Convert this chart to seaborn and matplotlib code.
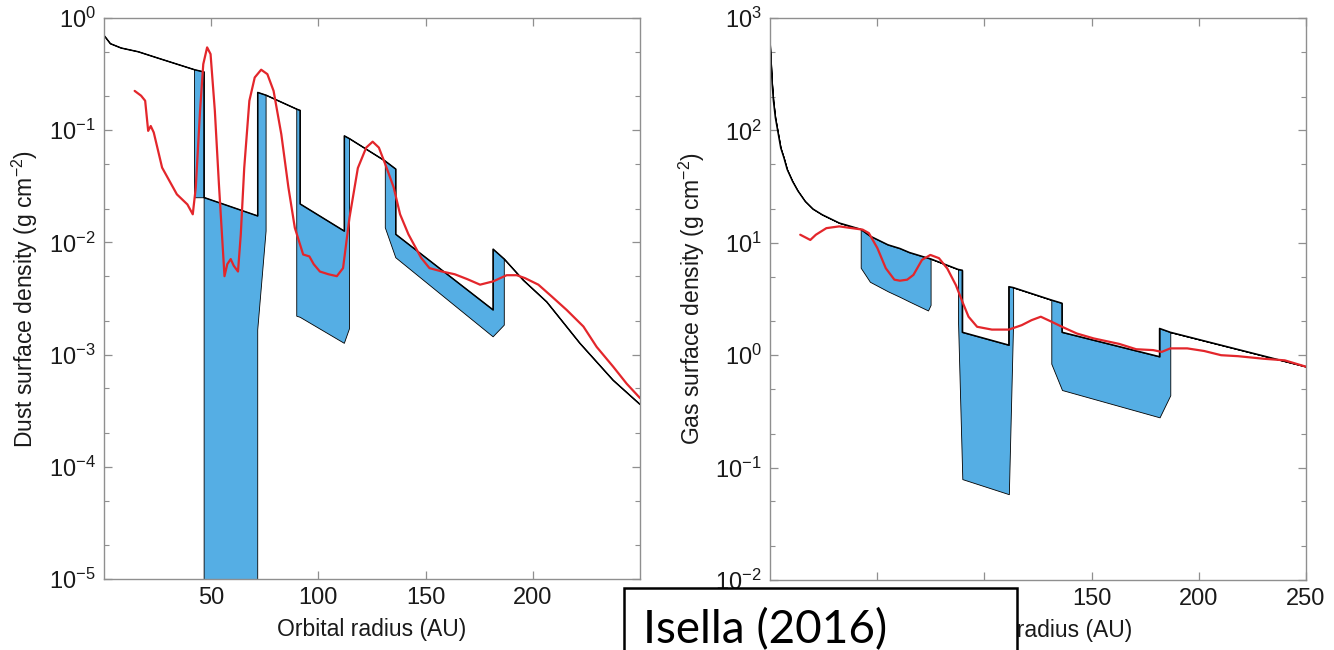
import numpy as np
import pandas as pd
import matplotlib
matplotlib.use('Agg')
import matplotlib.pyplot as plt
import seaborn as sns
from matplotlib.ticker import LogLocator, FixedLocator, FuncFormatter, NullFormatter
from matplotlib.patches import Rectangle

# ---------------- data ----------------
# Dust panel: model envelope (upper / lower), duplicated x = vertical jumps
dust_x = [0, 3, 8, 16, 25, 42.2, 42.2, 46.7, 46.7, 71.7, 71.7, 75.6, 75.6,
          89.9, 89.9, 91.5, 91.5, 112.1, 112.1, 114.5, 114.5,
          131.2, 131.2, 136.1, 136.1, 181.5, 181.5, 186.7, 186.7,
          195.6, 206.5, 222, 237.5, 250]
dust_upper = [0.70, 0.59, 0.54, 0.50, 0.44, 0.346, 0.346, 0.33, 0.0251, 0.0172, 0.217, 0.205, 0.205,
              0.154, 0.154, 0.150, 0.022, 0.0126, 0.089, 0.084, 0.084,
              0.053, 0.053, 0.045, 0.0118, 0.0025, 0.0087, 0.0071, 0.0071,
              0.0046, 0.00295, 0.00126, 0.00059, 0.00036]
dust_lower = [0.70, 0.59, 0.54, 0.50, 0.44, 0.346, 0.025, 0.025, 1e-6, 1e-6, 0.00166, 0.0126, 0.205,
              0.154, 0.0022, 0.00215, 0.00215, 0.00126, 0.00126, 0.0017, 0.084,
              0.053, 0.0135, 0.0073, 0.0073, 0.00144, 0.00144, 0.00183, 0.0071,
              0.0046, 0.00295, 0.00126, 0.00059, 0.00036]

dust_obs_x = [14.3, 17.3, 19.2, 20.6, 21.8, 23.2, 27.1, 34.0, 38.9, 41.4, 42.8, 44.8, 46.3, 48.1,
              49.7, 51.7, 53.6, 56.2, 57.5, 59.1, 60.5, 62.5, 63.8, 65.4, 67.8, 70.3, 73.3, 76.2,
              79.1, 82.7, 86.0, 89.0, 92.9, 95.8, 97.8, 100.7, 104.7, 108.6, 111.5, 114.5, 118.4,
              122.3, 125.3, 128.2, 131.2, 135.1, 138.1, 142.0, 147.9, 151.8, 157.7, 163.6, 169.5,
              175.4, 181.6, 187.8, 192.5, 196.4, 202.6, 208.8, 215.8, 223.6, 229.8, 237.5, 243.8,
              250]
dust_obs_y = [0.224, 0.203, 0.183, 0.0986, 0.109, 0.0955, 0.0464, 0.0268, 0.0218, 0.0178, 0.0308,
              0.149, 0.388, 0.547, 0.477, 0.149, 0.033, 0.0050, 0.0064, 0.0071, 0.0062, 0.0055,
              0.0118, 0.046, 0.183, 0.295, 0.346, 0.316, 0.224, 0.092, 0.031, 0.0135, 0.0078,
              0.0075, 0.0064, 0.0055, 0.0052, 0.0050, 0.0059, 0.0166, 0.046, 0.070, 0.079, 0.070,
              0.0497, 0.031, 0.0178, 0.0118, 0.0073, 0.0059, 0.0055, 0.0052, 0.0047, 0.0042,
              0.0045, 0.0051, 0.0051, 0.0048, 0.0042, 0.0033, 0.0025, 0.00178, 0.00117, 0.00078,
              0.00055, 0.00041]

# Gas panel
gas_x = [0, 0.3, 0.6, 1.0, 1.6, 2.5, 3.6, 5, 6.5, 8, 10.5, 13, 16.4, 20, 24.3, 32.3,
         42.3, 42.3, 46.6, 55, 60.6, 65, 73.7, 74.9, 74.9,
         87.7, 87.7, 89.7, 89.7, 111.4, 111.4, 113.4, 113.4,
         131.2, 131.2, 136.2, 136.2, 181.7, 181.7, 186.7, 186.7, 250]
gas_upper = [600, 470, 363, 260, 183, 130, 99, 70, 57, 45, 35.3, 29, 23.4, 20, 17.8, 15.0,
             13.2, 13.2, 11.5, 9.6, 8.9, 8.2, 7.3, 7.2, 7.2,
             5.8, 5.8, 5.7, 1.6, 1.23, 4.07, 4.0, 4.0,
             3.1, 3.1, 2.9, 1.6, 0.97, 1.73, 1.6, 1.6, 0.79]
gas_lower = [600, 470, 363, 260, 183, 130, 99, 70, 57, 45, 35.3, 29, 23.4, 20, 17.8, 15.0,
             13.2, 6.0, 4.5, 3.7, 3.3, 3.0, 2.5, 2.8, 7.2,
             5.8, 2.0, 0.079, 0.079, 0.058, 0.058, 2.0, 4.0,
             3.1, 0.84, 0.49, 0.49, 0.28, 0.28, 0.44, 1.6, 0.79]

gas_obs_x = [14.1, 16.4, 18.8, 21.4, 26.3, 32.3, 38.2, 43.2, 46.1, 50.1, 54.0, 58.0, 60.6, 64.0,
             66.9, 70.9, 74.8, 78.8, 82.7, 86.7, 89.7, 92.6, 96.6, 103.5, 111.4, 117.4, 122.0,
             126.3, 131.2, 136.2, 143.1, 151.0, 162.9, 170.8, 178.7, 182.7, 186.7, 194.6, 202.5,
             210.4, 218.3, 230.2, 240.1, 250]
gas_obs_y = [11.8, 11.2, 10.6, 11.8, 13.5, 14.0, 13.5, 13.1, 12.2, 8.96, 5.94, 4.7, 4.6, 4.7,
             5.18, 7.05, 7.8, 7.3, 5.9, 4.2, 3.0, 2.2, 1.79, 1.69, 1.69, 1.85, 2.05, 2.2, 1.99,
             1.79, 1.56, 1.41, 1.26, 1.13, 1.11, 1.07, 1.15, 1.15, 1.09, 1.0, 0.98, 0.93, 0.90,
             0.79]

dust_xticks = [50, 100, 150, 200]
gas_xticks = [50, 100, 150, 200, 250]
dust_ylabel = "Dust surface density (g cm$^{-2}$)"
gas_ylabel = "Gas surface density (g cm$^{-2}$)"
xlabel = "Orbital radius (AU)"
note_text = "Isella (2016)"

BLUE = "#55AEE4"
RED = "#E3262B"
SPINE = "#8f8f8f"

# ---------------- style ----------------
sns.set_style("ticks")
plt.rcParams['font.family'] = ['Liberation Sans', 'DejaVu Sans']
plt.rcParams['mathtext.fontset'] = 'custom'
plt.rcParams['mathtext.rm'] = 'Liberation Sans'
plt.rcParams['mathtext.it'] = 'Liberation Sans:italic'
plt.rcParams['mathtext.bf'] = 'Liberation Sans:bold'
plt.rcParams['mathtext.sf'] = 'Liberation Sans'

fig = plt.figure(figsize=(13.34, 6.5), dpi=100)
fig.patch.set_facecolor('white')
ax1 = fig.add_axes([104 / 1334, 71 / 650, 536 / 1334, 561 / 650])
ax2 = fig.add_axes([770 / 1334, 70 / 650, 536 / 1334, 562 / 650])


def decade_fmt(v, pos):
    e = int(round(np.log10(v)))
    return r"$10^{%d}$" % e


def panel(ax, x, up, lo, ox, oy, ylim, ylabel, xticks):
    ax.fill_between(x, lo, up, facecolor=BLUE, edgecolor='black', linewidth=0.6, zorder=1)
    sns.lineplot(x=x, y=up, ax=ax, color='black', linewidth=1.1, estimator=None,
                 sort=False, zorder=2)
    sns.lineplot(x=ox, y=oy, ax=ax, color=RED, linewidth=1.6, estimator=None,
                 sort=False, zorder=3)
    ax.set_yscale('log')
    ax.set_xlim(0, 250)
    ax.set_ylim(*ylim)
    ax.xaxis.set_major_locator(FixedLocator(xticks))
    ax.yaxis.set_major_locator(LogLocator(base=10, numticks=20))
    ax.yaxis.set_major_formatter(FuncFormatter(decade_fmt))
    ax.yaxis.set_minor_locator(LogLocator(base=10, subs=(2.0, 5.0), numticks=20))
    ax.yaxis.set_minor_formatter(NullFormatter())
    ax.tick_params(axis='both', which='major', direction='in', length=6, width=0.9,
                   color=SPINE, labelsize=17, labelcolor='#1a1a1a', top=True, right=True, pad=6)
    ax.tick_params(axis='both', which='minor', direction='in', length=3.5, width=0.8,
                   color=SPINE, top=True, right=True)
    for s in ax.spines.values():
        s.set_color(SPINE)
        s.set_linewidth(1.0)
    ax.set_xlabel(xlabel, fontsize=16.5, color='#1a1a1a', labelpad=6)
    ax.set_ylabel(ylabel, fontsize=16.5, color='#1a1a1a', labelpad=6)
    ax.set_facecolor('white')


panel(ax1, dust_x, dust_upper, dust_lower, dust_obs_x, dust_obs_y, (1e-5, 1),
      dust_ylabel, dust_xticks)
panel(ax2, gas_x, gas_upper, gas_lower, gas_obs_x, gas_obs_y, (1e-2, 1e3),
      gas_ylabel, gas_xticks)

# caption box overlapping the bottom
rect = Rectangle((624 / 1334, -0.1), 393 / 1334, 62 / 650 + 0.1, transform=fig.transFigure,
                 facecolor='white', edgecolor='black', linewidth=1.8, zorder=10, clip_on=False)
fig.add_artist(rect)
fig.text(643 / 1334, 7 / 650, note_text, fontsize=33, family=['Lato', 'DejaVu Sans'],
         color='black', ha='left', va='baseline', zorder=11)

fig.savefig('out.png', dpi=100, facecolor='white')
